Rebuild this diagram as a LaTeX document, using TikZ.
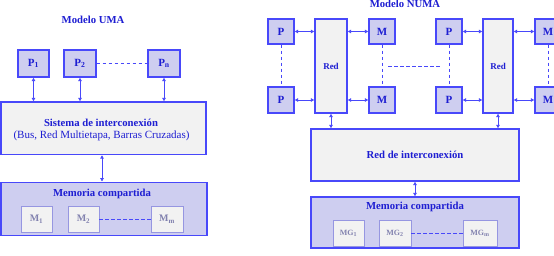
\documentclass[tikz,border=0pt]{standalone}
\usepackage{fontspec}
\setmainfont{Liberation Serif}
\usetikzlibrary{arrows.meta}
\definecolor{bord}{RGB}{72,72,250}
\definecolor{lav}{RGB}{206,206,240}
\definecolor{lgray}{RGB}{242,242,242}
\definecolor{tblue}{RGB}{30,30,210}
\definecolor{mbord}{RGB}{150,150,225}
\definecolor{mtext}{RGB}{130,130,175}
\tikzset{
  pbox/.style={draw=bord,fill=lav,line width=1.1pt,inner sep=0pt,font=\bfseries\fontsize{11}{13}\selectfont,text=tblue},
  graybox/.style={draw=bord,fill=lgray,line width=1.1pt,inner sep=0pt,text=tblue},
  membox/.style={draw=bord,fill=lav,line width=1.1pt,inner sep=0pt},
  mbox/.style={draw=mbord,fill=lgray,line width=0.9pt,inner sep=0pt,text=mtext,font=\bfseries\fontsize{10}{12}\selectfont},
  ttl/.style={text=tblue,font=\bfseries\fontsize{10.7}{12}\selectfont,inner sep=0pt},
  dbl/.style={draw=bord,line width=0.9pt,{Latex[length=3.5pt,width=4pt]}-{Latex[length=3.5pt,width=4pt]}},
  dsh/.style={draw=bord,line width=0.9pt,dash pattern=on 3.5pt off 2.5pt}
}
\begin{document}
\begin{tikzpicture}[x=1pt,y=-1pt]
\useasboundingbox (0,0) rectangle (554,256);
% ---------- UMA ----------
\node[ttl] (tuma) at (93,20) {Modelo UMA};
\node[pbox,minimum width=31pt,minimum height=27pt] (p1) at (33.5,63.5) {P\textsubscript{1}};
\node[pbox,minimum width=32pt,minimum height=27pt] (p2) at (80,63.5) {P\textsubscript{2}};
\node[pbox,minimum width=32pt,minimum height=27pt] (pn) at (164,63.5) {P\textsubscript{n}};
\node[graybox,minimum width=205pt,minimum height=52.5pt] (sis) at (103.5,128.25) {};
\node[ttl] (sist) at (101,123) {Sistema de interconexión};
\node[text=tblue,inner sep=0pt,font=\fontsize{11}{13}\selectfont] (sisb) at (101.5,136) {(Bus, Red Multietapa, Barras Cruzadas)};
\node[membox,minimum width=206pt,minimum height=53pt] (mem) at (104,208.75) {};
\node[ttl] (memt) at (102,194) {Memoria compartida};
\node[mbox,minimum width=31pt,minimum height=26pt] (m1) at (36.5,219) {M\textsubscript{1}};
\node[mbox,minimum width=31pt,minimum height=26pt] (m2) at (83.5,219) {M\textsubscript{2}};
\node[mbox,minimum width=32pt,minimum height=26pt] (mm) at (167,219) {M\textsubscript{m}};
\draw[dsh] (p2.east) -- (pn.west);
\draw[dsh] (m2.east) -- (mm.west);
\draw[dbl] (p1.south) -- (p1.south |- sis.north);
\draw[dbl] (p2.south) -- (p2.south |- sis.north);
\draw[dbl] (pn.south) -- (pn.south |- sis.north);
\draw[dbl] (102,154.5 |- sis.south) -- (102,0 |- mem.north);
% ---------- NUMA ----------
\node[ttl] (tnuma) at (405,4) {Modelo NUMA};
% group 1
\node[pbox,minimum width=26pt,minimum height=25pt] (pa1) at (281,31.5) {P};
\node[pbox,minimum width=26pt,minimum height=26pt] (pa2) at (281,100) {P};
\node[graybox,minimum width=32pt,minimum height=94pt,font=\bfseries\fontsize{9}{10}\selectfont] (ra) at (331,66) {Red};
\node[pbox,minimum width=26pt,minimum height=25pt] (ma1) at (382,31.5) {M};
\node[pbox,minimum width=26pt,minimum height=26pt] (ma2) at (382,100) {M};
% group 2
\node[pbox,minimum width=26pt,minimum height=25pt] (pb1) at (449,31.5) {P};
\node[pbox,minimum width=26pt,minimum height=26pt] (pb2) at (449,100) {P};
\node[graybox,minimum width=30pt,minimum height=94pt,font=\bfseries\fontsize{9}{10}\selectfont] (rb) at (498,66) {Red};
\node[pbox,minimum width=26pt,minimum height=25pt] (mb1) at (548,31.5) {M};
\node[pbox,minimum width=26pt,minimum height=26pt] (mb2) at (548,100) {M};
% arrows in groups
\draw[dbl] (pa1.east) -- (pa1.east -| ra.west);
\draw[dbl] (pa2.east) -- (pa2.east -| ra.west);
\draw[dbl] (ma1.west -| ra.east) -- (ma1.west);
\draw[dbl] (ma2.west -| ra.east) -- (ma2.west);
\draw[dbl] (pb1.east) -- (pb1.east -| rb.west);
\draw[dbl] (pb2.east) -- (pb2.east -| rb.west);
\draw[dbl] (mb1.west -| rb.east) -- (mb1.west);
\draw[dbl] (mb2.west -| rb.east) -- (mb2.west);
\draw[dsh] (pa1.south) -- (pa2.north);
\draw[dsh] (ma1.south) -- (ma2.north);
\draw[dsh] (pb1.south) -- (pb2.north);
\draw[dsh] (mb1.south) -- (mb2.north);
\coordinate (ha) at (388,66);
\coordinate (hb) at (441,66);
\draw[dsh] (ha) -- (hb);
% interconnection
\node[graybox,minimum width=208pt,minimum height=52pt,font=\bfseries\fontsize{10.7}{12}\selectfont] (rint) at (415,155) {Red de interconexión};
\node[membox,minimum width=208pt,minimum height=51pt] (memn) at (415,222.5) {};
\node[ttl] (memnt) at (415,207) {Memoria compartida};
\node[mbox,minimum width=31pt,minimum height=26pt,font=\bfseries\fontsize{8}{9}\selectfont] (mg1) at (348.5,233) {MG\textsubscript{1}};
\node[mbox,minimum width=32pt,minimum height=26pt,font=\bfseries\fontsize{8}{9}\selectfont] (mg2) at (395,233) {MG\textsubscript{2}};
\node[mbox,minimum width=34pt,minimum height=26pt,font=\bfseries\fontsize{8}{9}\selectfont] (mgm) at (480,233) {MG\textsubscript{m}};
\draw[dsh] (mg2.east) -- (mgm.west);
\draw[dbl] (ra.south) -- (ra.south |- rint.north);
\draw[dbl] (rb.south) -- (rb.south |- rint.north);
\draw[dbl] (rint.south) -- (memn.north);
\end{tikzpicture}
\end{document}
